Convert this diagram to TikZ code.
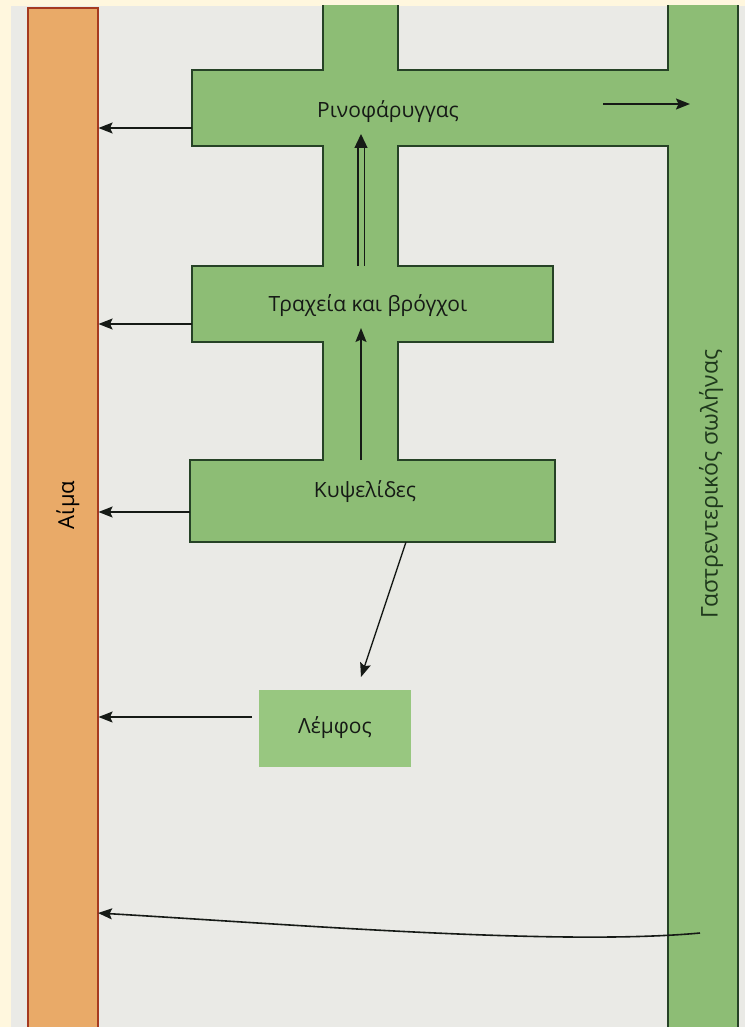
\documentclass[tikz,border=0pt]{standalone}
\usepackage{fontspec}
\setmainfont{Open Sans}
\usetikzlibrary{arrows.meta}
\definecolor{photoedge}{RGB}{255,247,222}
\definecolor{paper}{RGB}{234,234,230}
\definecolor{leaf}{RGB}{141,189,117}
\definecolor{leafline}{RGB}{38,66,38}
\definecolor{lymphfill}{RGB}{152,199,128}
\definecolor{bloodfill}{RGB}{233,170,104}
\definecolor{bloodline}{RGB}{165,58,32}
\definecolor{ink}{RGB}{22,26,22}
\definecolor{gutink}{RGB}{30,56,28}
\tikzstyle{airway} = [fill=leaf, draw=leafline, line width=1.6pt, line join=miter]
\tikzstyle{bloodbar} = [rectangle, fill=bloodfill, draw=bloodline, line width=1.1pt, inner sep=0pt]
\tikzstyle{lymphbox} = [rectangle, fill=lymphfill, minimum width=152pt, minimum height=77pt]
\tikzstyle{organ} = [text=ink, font=\fontsize{21}{25}\selectfont, inner sep=1pt]
\tikzstyle{flowarrow} = [draw=ink, line width=1.3pt, -{Stealth[length=14pt, width=11pt, inset=2.5pt]}]

\begin{document}
\begin{tikzpicture}[x=1pt, y=-1pt]
    \useasboundingbox (0,0) rectangle (745,1027);
    % Photo edge and page.
    \fill [fill=photoedge] (0,0) rectangle (745,1027);
    \fill [fill=paper] (11,6) rectangle (745,1027);
    \begin{scope}
    \clip (11,6) rectangle (745,1027);
    % Blood.
    \node [bloodbar, minimum width=70pt, minimum height=1030pt] (blood) at (63,523) {};
    % Airways joined to the gut.
    \filldraw [airway] (323,-10) -- (323,70) -- (192,70) -- (192,146) -- (323,146) -- (323,266)
        -- (192,266) -- (192,342) -- (323,342) -- (323,460) -- (190,460) -- (190,542)
        -- (555,542) -- (555,460) -- (398,460) -- (398,342) -- (553,342) -- (553,266)
        -- (398,266) -- (398,146) -- (668,146) -- (668,1040) -- (738,1040) -- (738,-10)
        -- (668,-10) -- (668,70) -- (398,70) -- (398,-10) -- cycle;
    % Draw the labels.
    \node [organ] (rin) at (388,112) {Ρινοφάρυγγας};
    \node [organ] (tra) at (368,306) {Τραχεία και βρόγχοι};
    \node [organ] (kyv) at (365,492) {Κυψελίδες};
    \node [lymphbox, organ] (lym) at (335,728) {Λέμφος};
    \node [organ, rotate=90, text=black, font=\fontsize{22}{26}\selectfont] (aima) at (68,505) {Αίμα};
    \node [organ, rotate=90, text=gutink, font=\fontsize{23}{27}\selectfont] (gi) at (711,484) {Γαστρεντερικός σωλήνας};
    % Arrow ends.
    \coordinate (rinout) at (192,128);
    \coordinate (traout) at (192,324);
    \coordinate (kyvout) at (190,512);
    \coordinate (lymout) at (252,717);
    \coordinate (rinin) at (361,134);
    \coordinate (tratop) at (361,266);
    \coordinate (train) at (361,328);
    \coordinate (kyvtop) at (361,460);
    \coordinate (kyvbot) at (406,542);
    \coordinate (lymin) at (361,677);
    \coordinate (gutfrom) at (603,104);
    \coordinate (gutto) at (690,104);
    \coordinate (gutout) at (700,933);
    \coordinate (bloodlow) at (98,913);
    % Airways -> blood.
    \path (rinout) edge [flowarrow] (rinout -| blood.east);
    \path (traout) edge [flowarrow] (traout -| blood.east);
    \path (kyvout) edge [flowarrow] (kyvout -| blood.east);
    % Lymph -> blood.
    \path (lymout) edge [flowarrow] (lymout -| blood.east);
    % Up the airways.
    \draw [draw=ink, line width=1.3pt, double=leaf, double distance=5pt,
        -{Triangle[length=14pt, width=13pt]}] (tratop) -- (rinin);
    \path (kyvtop) edge [flowarrow] (train);
    % Alveoli -> lymph.
    \path (kyvbot) edge [flowarrow] (lymin);
    % Pharynx -> gut.
    \path (gutfrom) edge [flowarrow, line width=1.8pt] (gutto);
    % Gut -> blood.
    \draw [flowarrow, line width=1.6pt] (gutout) .. controls (560,946) and (300,925) .. (bloodlow);
    \end{scope}
\end{tikzpicture}
\end{document}
